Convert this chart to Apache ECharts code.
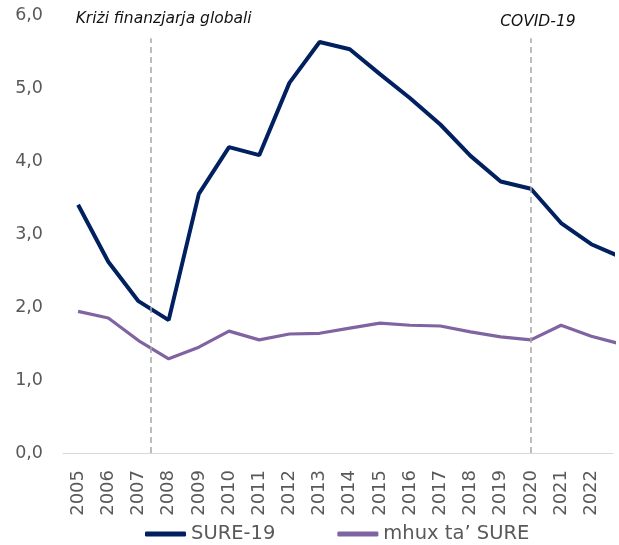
<!DOCTYPE html>
<html>
<head>
<meta charset="utf-8">
<script src="https://cdn.jsdelivr.net/npm/echarts@6/dist/echarts.min.js"></script>
<style>
  html, body { margin: 0; padding: 0; background: #fff; }
  #chart { width: 619px; height: 545px; }
</style>
</head>
<body>
<div id="chart"></div>
<script>
// years shown on the axis; the picture is cropped just after 2022
const years = ['2005','2006','2007','2008','2009','2010','2011','2012','2013','2014',
  '2015','2016','2017','2018','2019','2020','2021','2022'];
// last value of each list (2023) is only partly visible at the right edge
const sure19 = [3.40, 2.62, 2.08, 1.82, 3.55, 4.19, 4.08, 5.07, 5.63, 5.53,
  5.19, 4.86, 4.50, 4.07, 3.72, 3.62, 3.15, 2.86, 2.68];
const notSure = [1.94, 1.85, 1.54, 1.29, 1.45, 1.67, 1.55, 1.63, 1.64, 1.71,
  1.78, 1.75, 1.74, 1.66, 1.59, 1.55, 1.75, 1.60, 1.49];
const yTicks = [0, 1, 2, 3, 4, 5, 6];
// events: position on the year index scale
const events = [
  { name: 'Kriżi finanzjarja globali', at: 2.42, offset: [12.5, -3.5] },
  { name: 'COVID-19', at: 15, offset: [7, 0] }
];
const lineTop = 5.68;
const xMax = 17.72; // right edge of the plot, in year index units

const font = 'DejaVu Sans';
const grey = '#595959';

const toPairs = arr => arr.map((v, i) => [i, v]);

const chart = echarts.init(document.getElementById('chart'));
chart.setOption({
  animation: false,
  textStyle: { fontFamily: font },
  grid: { left: 63, right: 6, top: 15, bottom: 92, containLabel: false },
  legend: {
    left: 145,
    top: 524,
    padding: 0,
    icon: 'roundRect',
    itemWidth: 41,
    itemHeight: 5,
    itemGap: 62,
    textStyle: { fontFamily: font, fontSize: 19.5, color: grey },
    data: ['SURE-19', 'mhux ta’ SURE']
  },
  xAxis: {
    type: 'value',
    min: -0.5,
    max: xMax,
    axisLine: { show: true, onZero: false, lineStyle: { color: '#d9d9d9', width: 1 } },
    axisTick: { show: false },
    splitLine: { show: false },
    axisLabel: {
      customValues: years.map((y, i) => i),
      formatter: v => years[v] || '',
      rotate: 90, margin: 17, fontSize: 18, color: grey, fontFamily: font
    }
  },
  yAxis: {
    type: 'value',
    min: yTicks[0],
    max: yTicks[yTicks.length - 1],
    interval: 1,
    axisLine: { show: false },
    axisTick: { show: false },
    splitLine: { show: false },
    axisLabel: {
      fontSize: 17.5, color: grey, fontFamily: font, margin: 20,
      formatter: v => v.toFixed(1).replace('.', ',')
    }
  },
  series: [
    {
      name: 'SURE-19',
      type: 'line',
      data: toPairs(sure19),
      symbol: 'none',
      clip: true,
      lineStyle: { color: '#002060', width: 4 },
      itemStyle: { color: '#002060' },
      z: 3
    },
    {
      name: 'mhux ta’ SURE',
      type: 'line',
      data: toPairs(notSure),
      symbol: 'none',
      clip: true,
      lineStyle: { color: '#8064a2', width: 3.2 },
      itemStyle: { color: '#8064a2' },
      z: 2
    },
    {
      name: 'events',
      type: 'line',
      data: [],
      markLine: {
        silent: true,
        symbol: ['none', 'none'],
        lineStyle: { color: '#a6a6a6', width: 1.5, type: [6, 4] },
        label: {
          show: true,
          position: 'end',
          distance: 8,
          fontFamily: font,
          fontStyle: 'italic',
          fontSize: 15.5,
          color: '#111'
        },
        data: events.map(e => [
          { coord: [e.at, 0] },
          { coord: [e.at, lineTop], label: { formatter: e.name, offset: e.offset } }
        ])
      }
    }
  ]
});
</script>
</body>
</html>
